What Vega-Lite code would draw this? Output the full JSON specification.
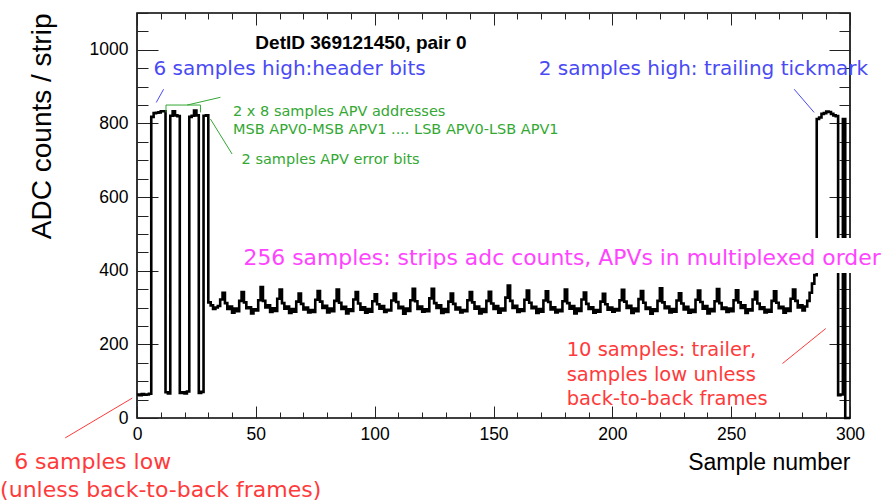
{
"$schema":"https://vega.github.io/schema/vega-lite/v6.json",
"width":713,"height":405,
"autosize":{"type":"none"},
"padding":{"left":137,"top":13,"right":33,"bottom":84},
"background":"white",
"config":{"view":{"stroke":"black","strokeWidth":1.6}},
"datasets":{
"wave":[
{"sample":0,"adc":64},{"sample":1,"adc":62},{"sample":2,"adc":65},{"sample":3,"adc":63},{"sample":4,"adc":64},{"sample":5,"adc":66},
{"sample":6,"adc":818},{"sample":7,"adc":828},{"sample":8,"adc":829},{"sample":9,"adc":830},{"sample":10,"adc":833},{"sample":11,"adc":833},
{"sample":12,"adc":70},{"sample":13,"adc":67},
{"sample":14,"adc":821},{"sample":15,"adc":833},{"sample":16,"adc":822},{"sample":17,"adc":820},
{"sample":18,"adc":68},{"sample":19,"adc":70},{"sample":20,"adc":67},{"sample":21,"adc":72},
{"sample":22,"adc":818},{"sample":23,"adc":821},{"sample":24,"adc":835},{"sample":25,"adc":822},
{"sample":26,"adc":68},{"sample":27,"adc":71},
{"sample":28,"adc":821},{"sample":29,"adc":822},
{"sample":30,"adc":314},{"sample":31,"adc":306},{"sample":32,"adc":296},{"sample":33,"adc":300},{"sample":34,"adc":304},{"sample":35,"adc":322},
{"sample":36,"adc":340},{"sample":37,"adc":312},{"sample":38,"adc":296},{"sample":39,"adc":303},{"sample":40,"adc":286},{"sample":41,"adc":297},{"sample":42,"adc":290},{"sample":43,"adc":318},
{"sample":44,"adc":342},{"sample":45,"adc":314},{"sample":46,"adc":298},{"sample":47,"adc":301},{"sample":48,"adc":284},{"sample":49,"adc":295},{"sample":50,"adc":292},{"sample":51,"adc":320},
{"sample":52,"adc":356},{"sample":53,"adc":318},{"sample":54,"adc":300},{"sample":55,"adc":306},{"sample":56,"adc":288},{"sample":57,"adc":298},{"sample":58,"adc":291},{"sample":59,"adc":324},
{"sample":60,"adc":349},{"sample":61,"adc":312},{"sample":62,"adc":297},{"sample":63,"adc":303},{"sample":64,"adc":285},{"sample":65,"adc":296},{"sample":66,"adc":289},{"sample":67,"adc":316},
{"sample":68,"adc":338},{"sample":69,"adc":310},{"sample":70,"adc":295},{"sample":71,"adc":300},{"sample":72,"adc":287},{"sample":73,"adc":293},{"sample":74,"adc":288},{"sample":75,"adc":321},
{"sample":76,"adc":345},{"sample":77,"adc":316},{"sample":78,"adc":299},{"sample":79,"adc":305},{"sample":80,"adc":287},{"sample":81,"adc":297},{"sample":82,"adc":290},{"sample":83,"adc":318},
{"sample":84,"adc":349},{"sample":85,"adc":313},{"sample":86,"adc":296},{"sample":87,"adc":302},{"sample":88,"adc":284},{"sample":89,"adc":295},{"sample":90,"adc":291},{"sample":91,"adc":322},
{"sample":92,"adc":342},{"sample":93,"adc":311},{"sample":94,"adc":294},{"sample":95,"adc":301},{"sample":96,"adc":286},{"sample":97,"adc":296},{"sample":98,"adc":289},{"sample":99,"adc":317},
{"sample":100,"adc":336},{"sample":101,"adc":309},{"sample":102,"adc":297},{"sample":103,"adc":304},{"sample":104,"adc":288},{"sample":105,"adc":294},{"sample":106,"adc":292},{"sample":107,"adc":319},
{"sample":108,"adc":338},{"sample":109,"adc":315},{"sample":110,"adc":298},{"sample":111,"adc":302},{"sample":112,"adc":283},{"sample":113,"adc":297},{"sample":114,"adc":291},{"sample":115,"adc":320},
{"sample":116,"adc":351},{"sample":117,"adc":317},{"sample":118,"adc":296},{"sample":119,"adc":303},{"sample":120,"adc":289},{"sample":121,"adc":295},{"sample":122,"adc":290},{"sample":123,"adc":325},
{"sample":124,"adc":351},{"sample":125,"adc":312},{"sample":126,"adc":299},{"sample":127,"adc":306},{"sample":128,"adc":285},{"sample":129,"adc":296},{"sample":130,"adc":288},{"sample":131,"adc":316},
{"sample":132,"adc":338},{"sample":133,"adc":310},{"sample":134,"adc":295},{"sample":135,"adc":300},{"sample":136,"adc":287},{"sample":137,"adc":293},{"sample":138,"adc":290},{"sample":139,"adc":320},
{"sample":140,"adc":342},{"sample":141,"adc":314},{"sample":142,"adc":297},{"sample":143,"adc":303},{"sample":144,"adc":284},{"sample":145,"adc":296},{"sample":146,"adc":288},{"sample":147,"adc":318},
{"sample":148,"adc":343},{"sample":149,"adc":311},{"sample":150,"adc":296},{"sample":151,"adc":304},{"sample":152,"adc":286},{"sample":153,"adc":297},{"sample":154,"adc":292},{"sample":155,"adc":327},
{"sample":156,"adc":360},{"sample":157,"adc":318},{"sample":158,"adc":299},{"sample":159,"adc":305},{"sample":160,"adc":288},{"sample":161,"adc":295},{"sample":162,"adc":291},{"sample":163,"adc":321},
{"sample":164,"adc":346},{"sample":165,"adc":313},{"sample":166,"adc":298},{"sample":167,"adc":302},{"sample":168,"adc":285},{"sample":169,"adc":296},{"sample":170,"adc":289},{"sample":171,"adc":319},
{"sample":172,"adc":344},{"sample":173,"adc":315},{"sample":174,"adc":295},{"sample":175,"adc":301},{"sample":176,"adc":287},{"sample":177,"adc":294},{"sample":178,"adc":290},{"sample":179,"adc":317},
{"sample":180,"adc":349},{"sample":181,"adc":312},{"sample":182,"adc":297},{"sample":183,"adc":304},{"sample":184,"adc":284},{"sample":185,"adc":297},{"sample":186,"adc":291},{"sample":187,"adc":322},
{"sample":188,"adc":341},{"sample":189,"adc":310},{"sample":190,"adc":296},{"sample":191,"adc":301},{"sample":192,"adc":286},{"sample":193,"adc":293},{"sample":194,"adc":289},{"sample":195,"adc":316},
{"sample":196,"adc":337},{"sample":197,"adc":309},{"sample":198,"adc":294},{"sample":199,"adc":300},{"sample":200,"adc":289},{"sample":201,"adc":296},{"sample":202,"adc":292},{"sample":203,"adc":320},
{"sample":204,"adc":348},{"sample":205,"adc":316},{"sample":206,"adc":299},{"sample":207,"adc":305},{"sample":208,"adc":285},{"sample":209,"adc":297},{"sample":210,"adc":290},{"sample":211,"adc":323},
{"sample":212,"adc":345},{"sample":213,"adc":313},{"sample":214,"adc":296},{"sample":215,"adc":300},{"sample":216,"adc":283},{"sample":217,"adc":295},{"sample":218,"adc":291},{"sample":219,"adc":318},
{"sample":220,"adc":352},{"sample":221,"adc":314},{"sample":222,"adc":298},{"sample":223,"adc":303},{"sample":224,"adc":287},{"sample":225,"adc":296},{"sample":226,"adc":289},{"sample":227,"adc":319},
{"sample":228,"adc":339},{"sample":229,"adc":311},{"sample":230,"adc":295},{"sample":231,"adc":302},{"sample":232,"adc":286},{"sample":233,"adc":294},{"sample":234,"adc":288},{"sample":235,"adc":321},
{"sample":236,"adc":346},{"sample":237,"adc":315},{"sample":238,"adc":297},{"sample":239,"adc":304},{"sample":240,"adc":284},{"sample":241,"adc":296},{"sample":242,"adc":290},{"sample":243,"adc":317},
{"sample":244,"adc":350},{"sample":245,"adc":312},{"sample":246,"adc":296},{"sample":247,"adc":300},{"sample":248,"adc":288},{"sample":249,"adc":297},{"sample":250,"adc":290},{"sample":251,"adc":320},
{"sample":252,"adc":347},{"sample":253,"adc":314},{"sample":254,"adc":299},{"sample":255,"adc":306},{"sample":256,"adc":285},{"sample":257,"adc":295},{"sample":258,"adc":292},{"sample":259,"adc":322},
{"sample":260,"adc":343},{"sample":261,"adc":311},{"sample":262,"adc":296},{"sample":263,"adc":301},{"sample":264,"adc":287},{"sample":265,"adc":294},{"sample":266,"adc":289},{"sample":267,"adc":318},
{"sample":268,"adc":344},{"sample":269,"adc":313},{"sample":270,"adc":298},{"sample":271,"adc":302},{"sample":272,"adc":286},{"sample":273,"adc":297},{"sample":274,"adc":291},{"sample":275,"adc":324},
{"sample":276,"adc":349},{"sample":277,"adc":318},{"sample":278,"adc":300},{"sample":279,"adc":306},{"sample":280,"adc":292},{"sample":281,"adc":303},{"sample":282,"adc":318},{"sample":283,"adc":340},
{"sample":284,"adc":365},{"sample":285,"adc":388},
{"sample":286,"adc":812},{"sample":287,"adc":816},{"sample":288,"adc":826},{"sample":289,"adc":828},{"sample":290,"adc":832},{"sample":291,"adc":831},{"sample":292,"adc":826},{"sample":293,"adc":822},{"sample":294,"adc":820},
{"sample":295,"adc":62},{"sample":296,"adc":64},{"sample":297,"adc":812},{"sample":298,"adc":0},{"sample":299,"adc":0},{"sample":300,"adc":0}
],
"notes":[
{"label":"DetID 369121450, pair 0","x":49.8,"y":1001,"grp":"title"},
{"label":"6 samples high:header bits","x":6.9,"y":932,"grp":"blue"},
{"label":"2 samples high: trailing tickmark","x":169,"y":932,"grp":"blue"},
{"label":"2 x 8 samples APV addresses","x":40.4,"y":821,"grp":"green"},
{"label":"MSB APV0-MSB APV1 .... LSB APV0-LSB APV1","x":40.4,"y":771,"grp":"green"},
{"label":"2 samples APV error bits","x":44,"y":691,"grp":"green"},
{"label":"256 samples: strips adc counts, APVs in multiplexed order","x":44.8,"y":415,"grp":"magenta"},
{"label":"10 samples: trailer,","x":180.8,"y":168,"grp":"red"},
{"label":"samples low unless","x":180.8,"y":100,"grp":"red"},
{"label":"back-to-back frames","x":180.8,"y":35,"grp":"red"},
{"label":"6 samples low","x":-51.7,"y":-138,"grp":"red2"},
{"label":"(unless back-to-back frames)","x":-57.6,"y":-214,"grp":"red2"}
],
"masks":[
{"x1":44,"x2":313,"y1":394,"y2":489}
],
"lines":[
{"x1":8.1,"y1":857,"x2":11.2,"y2":893,"grp":"blue"},
{"x1":276.5,"y1":893,"x2":284.9,"y2":830,"grp":"blue"},
{"x1":12.2,"y1":850,"x2":26.7,"y2":850,"grp":"green"},
{"x1":12.2,"y1":850,"x2":12.2,"y2":830,"grp":"green"},
{"x1":26.7,"y1":850,"x2":26.7,"y2":830,"grp":"green"},
{"x1":21.1,"y1":850,"x2":35.1,"y2":871,"grp":"green"},
{"x1":30.9,"y1":812,"x2":40,"y2":717,"grp":"green"},
{"x1":-30.2,"y1":-54,"x2":-2,"y2":54,"grp":"red"},
{"x1":271.6,"y1":148,"x2":289.8,"y2":243,"grp":"red"}
]
},
"layer":[
{"data":{"name":"wave"},
 "mark":{"type":"line","interpolate":"step-after","color":"black","strokeWidth":2.6},
 "encoding":{
  "x":{"field":"sample","type":"quantitative","scale":{"domain":[0,300],"nice":false,"zero":false},
   "axis":{"orient":"bottom","title":"Sample number","titleFont":"Liberation Sans","titleFontSize":23,"titleFontWeight":"normal","titleColor":"black","titleAnchor":"end","titlePadding":3,
    "values":[0,10,20,30,40,50,60,70,80,90,100,110,120,130,140,150,160,170,180,190,200,210,220,230,240,250,260,270,280,290,300],
    "format":"d","labelExpr":"datum.value % 50 === 0 ? datum.label : ''","labelFont":"Liberation Sans","labelFontSize":17.5,"labelColor":"black","labelPadding":19,"labelOverlap":false,"labelFlush":false,
    "tickSize":{"condition":{"test":"datum.value % 50 === 0","value":-12},"value":-6},"tickColor":"#222","tickWidth":1,"domain":false,"grid":false}},
  "y":{"field":"adc","type":"quantitative","scale":{"domain":[0,1100],"nice":false,"zero":false},
   "axis":{"orient":"left","title":"ADC counts / strip","titleFont":"Liberation Sans","titleFontSize":28,"titleFontWeight":"normal","titleColor":"black","titleAnchor":"end","titlePadding":33,
    "values":[0,50,100,150,200,250,300,350,400,450,500,550,600,650,700,750,800,850,900,950,1000,1050,1100],
    "format":"d","labelExpr":"datum.value % 200 === 0 ? datum.label : ''","labelFont":"Liberation Sans","labelFontSize":17.5,"labelColor":"black","labelPadding":30,"labelOverlap":false,"labelFlush":false,
    "tickSize":{"condition":{"test":"datum.value % 200 === 0","value":-21},"value":-11},"tickColor":"#222","tickWidth":1,"domain":false,"grid":false}}
 }},
{"data":{"name":"wave"},
 "mark":{"type":"line","opacity":0},
 "encoding":{
  "x":{"field":"sample","type":"quantitative",
   "axis":{"orient":"top","title":null,"labels":false,
    "values":[0,10,20,30,40,50,60,70,80,90,100,110,120,130,140,150,160,170,180,190,200,210,220,230,240,250,260,270,280,290,300],
    "tickSize":{"condition":{"test":"datum.value % 50 === 0","value":-12},"value":-6},"tickColor":"#222","tickWidth":1,"domain":false,"grid":false}},
  "y":{"field":"adc","type":"quantitative",
   "axis":{"orient":"right","title":null,"labels":false,
    "values":[0,50,100,150,200,250,300,350,400,450,500,550,600,650,700,750,800,850,900,950,1000,1050,1100],
    "tickSize":{"condition":{"test":"datum.value % 200 === 0","value":-21},"value":-11},"tickColor":"#222","tickWidth":1,"domain":false,"grid":false}}
 }},
{"data":{"name":"masks"},
 "mark":{"type":"rect","fill":"white","stroke":null},
 "encoding":{
  "x":{"field":"x1","type":"quantitative","axis":null},
  "x2":{"field":"x2"},
  "y":{"field":"y1","type":"quantitative","axis":null},
  "y2":{"field":"y2"}
 }},
{"data":{"name":"lines"},
 "mark":{"type":"rule","strokeWidth":1},
 "encoding":{
  "x":{"field":"x1","type":"quantitative","axis":null},
  "x2":{"field":"x2"},
  "y":{"field":"y1","type":"quantitative","axis":null},
  "y2":{"field":"y2"},
  "color":{"field":"grp","type":"nominal","legend":null,"scale":{"domain":["blue","green","red"],"range":["#4a4af5","#33a833","#ff3a3a"]}}
 }},
{"data":{"name":"notes"},
 "transform":[{"filter":"datum.grp === 'title'"}],
 "mark":{"type":"text","align":"left","baseline":"alphabetic","font":"Liberation Sans","fontWeight":"bold","fontSize":19,"color":"black"},
 "encoding":{"x":{"field":"x","type":"quantitative","axis":null},"y":{"field":"y","type":"quantitative","axis":null},"text":{"field":"label"}}},
{"data":{"name":"notes"},
 "transform":[{"filter":"datum.grp === 'blue'"}],
 "mark":{"type":"text","align":"left","baseline":"alphabetic","font":"DejaVu Sans","fontSize":20,"color":"#4a4af5"},
 "encoding":{"x":{"field":"x","type":"quantitative","axis":null},"y":{"field":"y","type":"quantitative","axis":null},"text":{"field":"label"}}},
{"data":{"name":"notes"},
 "transform":[{"filter":"datum.grp === 'green'"}],
 "mark":{"type":"text","align":"left","baseline":"alphabetic","font":"DejaVu Sans","fontSize":14.5,"color":"#33a833"},
 "encoding":{"x":{"field":"x","type":"quantitative","axis":null},"y":{"field":"y","type":"quantitative","axis":null},"text":{"field":"label"}}},
{"data":{"name":"notes"},
 "transform":[{"filter":"datum.grp === 'magenta'"}],
 "mark":{"type":"text","align":"left","baseline":"alphabetic","font":"DejaVu Sans","fontSize":21.9,"color":"#ff44ff"},
 "encoding":{"x":{"field":"x","type":"quantitative","axis":null},"y":{"field":"y","type":"quantitative","axis":null},"text":{"field":"label"}}},
{"data":{"name":"notes"},
 "transform":[{"filter":"datum.grp === 'red'"}],
 "mark":{"type":"text","align":"left","baseline":"alphabetic","font":"DejaVu Sans","fontSize":19.5,"color":"#ff3a3a"},
 "encoding":{"x":{"field":"x","type":"quantitative","axis":null},"y":{"field":"y","type":"quantitative","axis":null},"text":{"field":"label"}}},
{"data":{"name":"notes"},
 "transform":[{"filter":"datum.grp === 'red2'"}],
 "mark":{"type":"text","align":"left","baseline":"alphabetic","font":"DejaVu Sans","fontSize":22,"color":"#ff3a3a"},
 "encoding":{"x":{"field":"x","type":"quantitative","axis":null},"y":{"field":"y","type":"quantitative","axis":null},"text":{"field":"label"}}}
],
"resolve":{"axis":{"x":"independent","y":"independent"}}
}
